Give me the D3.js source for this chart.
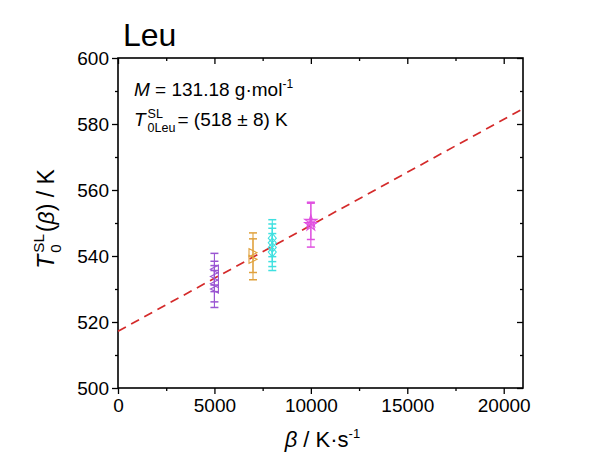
<!DOCTYPE html>
<html>
<head>
    <meta charset="utf-8" />
    <title>Leu</title>
    <style>
        body { margin: 0; background: #fff; }
        text { font-family: Arial, "Liberation Sans", sans-serif; fill: #000; }
    </style>
</head>
<body>
    <script src="https://cdn.jsdelivr.net/npm/d3@7"></script>
    <script>

        // heating rates (K/s)
        let rates = [5000, 7000, 8000, 10000]
        let seriesColors = ['#9a55d2', '#e0a13c', '#3fe0e0', '#e050e0']
        let seriesSymbols = ['left', 'right', 'diamond', 'star']

        // onset temperatures (K) and errors, per rate
        let purpleT = [536, 533.8, 531.6, 530]
        let purpleErr = [4.8, 4.6, 5.5, 5.6]
        let orangeT = [541, 539]
        let orangeErr = [6, 6.2]
        let cyanT = [545.4, 544, 542.6, 541.2]
        let cyanErr = [5.6, 5.7, 5.8, 5.6]
        let magentaT = [549.5, 550.5]
        let magentaErr = [6.8, 5.5]

        // linear fit
        let fitIntercept = 517.2
        let fitSlope = 0.00321

        let xTicks = [0, 5000, 10000, 15000, 20000]
        let yTicks = [500, 520, 540, 560, 580, 600]

        let allT = [purpleT, orangeT, cyanT, magentaT]
        let allErr = [purpleErr, orangeErr, cyanErr, magentaErr]

        let width = 600, height = 452
        let margin = { top: 58, right: 77, bottom: 64, left: 118 }
        let w = width - margin.left - margin.right
        let h = height - margin.top - margin.bottom

        let svg = d3.select('body').append('svg')
            .attr('width', width)
            .attr('height', height)

        svg.append('rect').attr('width', width).attr('height', height).attr('fill', '#fff')

        let g = svg.append('g').attr('transform', `translate(${margin.left}, ${margin.top})`)

        let x = d3.scaleLinear().domain([0, 21000]).range([0, w])
        let y = d3.scaleLinear().domain([500, 600]).range([h, 0])

        // axes
        let minorX = d3.range(0, 21001, 2500).filter(v => v % 5000 !== 0)
        let minorY = d3.range(500, 601, 10).filter(v => v % 20 !== 0)

        function styleAxis(sel) {
            sel.select('.domain').remove()
            sel.selectAll('line').attr('stroke', '#000').attr('stroke-width', 1.3)
            sel.selectAll('text').attr('font-size', 19).attr('fill', '#000')
        }

        g.append('g').attr('transform', `translate(0, ${h})`)
            .call(d3.axisBottom(x).tickValues(xTicks).tickSize(6).tickPadding(5).tickFormat(d3.format('d')))
            .call(styleAxis)
        g.append('g').attr('transform', `translate(0, ${h})`)
            .call(d3.axisBottom(x).tickValues(minorX).tickSize(3).tickFormat(''))
            .call(styleAxis)

        g.append('g')
            .call(d3.axisLeft(y).tickValues(yTicks).tickSize(6).tickPadding(3))
            .call(styleAxis)
        g.append('g')
            .call(d3.axisLeft(y).tickValues(minorY).tickSize(3).tickFormat(''))
            .call(styleAxis)

        // mirrored ticks, inward
        g.append('g')
            .call(d3.axisTop(x).tickValues(xTicks).tickSize(-6).tickFormat(''))
            .call(styleAxis)
        g.append('g')
            .call(d3.axisTop(x).tickValues(minorX).tickSize(-3).tickFormat(''))
            .call(styleAxis)
        g.append('g').attr('transform', `translate(${w}, 0)`)
            .call(d3.axisRight(y).tickValues(yTicks).tickSize(-6).tickFormat(''))
            .call(styleAxis)
        g.append('g').attr('transform', `translate(${w}, 0)`)
            .call(d3.axisRight(y).tickValues(minorY).tickSize(-3).tickFormat(''))
            .call(styleAxis)

        g.append('rect')
            .attr('width', w).attr('height', h)
            .attr('fill', 'none').attr('stroke', '#000').attr('stroke-width', 1.6)

        // fit line
        g.append('line')
            .attr('x1', x(0)).attr('y1', y(fitIntercept))
            .attr('x2', x(21000)).attr('y2', y(fitIntercept + fitSlope * 21000))
            .attr('stroke', '#d42a2a').attr('stroke-width', 1.7)
            .attr('stroke-dasharray', '9,6')

        // symbols
        function symbolPath(type, s) {
            if (type === 'left') return `M${-s},0L${s},${-s}L${s},${s}Z`
            if (type === 'right') return `M${s},0L${-s},${-s}L${-s},${s}Z`
            if (type === 'diamond') return `M0,${-s * 1.2}L${s},0L0,${s * 1.2}L${-s},0Z`
            return d3.symbol(d3.symbolStar, s * s * 3)()
        }

        rates.forEach(function (rate, i) {
            let pts = allT[i].map(function (t, j) { return { t: t, e: allErr[i][j] } })
            let sg = g.append('g').attr('stroke', seriesColors[i]).attr('stroke-width', 1.1)

            pts.forEach(function (p) {
                let cx = x(rate)
                sg.append('line')
                    .attr('x1', cx).attr('x2', cx)
                    .attr('y1', y(p.t + p.e)).attr('y2', y(p.t - p.e))
                ;[p.t + p.e, p.t - p.e].forEach(function (v) {
                    sg.append('line')
                        .attr('x1', cx - 4).attr('x2', cx + 4)
                        .attr('y1', y(v)).attr('y2', y(v))
                        .attr('stroke-width', 1.5)
                })
            })
            pts.forEach(function (p) {
                sg.append('path')
                    .attr('d', symbolPath(seriesSymbols[i], 4))
                    .attr('transform', `translate(${x(rate)}, ${y(p.t)})`)
                    .attr('fill', seriesSymbols[i] === 'star' ? seriesColors[i] : 'none')
                    .attr('fill-opacity', 0.5)
            })
        })

        // title
        svg.append('text')
            .attr('x', 123).attr('y', 46)
            .attr('font-size', 32)
            .text('Leu')

        // annotation 1
        let a1 = svg.append('text').attr('x', 134).attr('y', 96).attr('font-size', 19)
        a1.append('tspan').attr('font-style', 'italic').text('M')
        a1.append('tspan').text(' = 131.18 g·mol')
        a1.append('tspan').attr('font-size', 12).attr('dy', -8).text('-1')

        // stacked sub/superscript label builder
        function stackedLabel(parent, xPos, yPos, size, sup, sub, rest) {
            let t = parent.append('text').attr('x', xPos).attr('y', yPos).attr('font-size', size)
                .attr('font-style', 'italic').text('T')
            let tw = t.node().getComputedTextLength()
            let small = size * 0.66
            let s1 = parent.append('text').attr('x', xPos + tw + 2).attr('y', yPos - size * 0.42)
                .attr('font-size', small).text(sup)
            let s2 = parent.append('text').attr('x', xPos + tw + 2).attr('y', yPos + size * 0.32)
                .attr('font-size', small).text(sub)
            let sw = Math.max(s1.node().getComputedTextLength(), s2.node().getComputedTextLength())
            let r = parent.append('text').attr('x', xPos + tw + sw + 4).attr('y', yPos).attr('font-size', size)
            rest.forEach(function (part) {
                let sp = r.append('tspan').text(part.text)
                if (part.italic) sp.attr('font-style', 'italic')
            })
            return tw + sw + 4 + r.node().getComputedTextLength()
        }

        stackedLabel(svg, 134, 126, 19, 'SL', '0Leu', [{ text: ' = (518 ± 8) K' }])

        // y axis label
        let yl = svg.append('g')
        let yLen = stackedLabel(yl, 0, 0, 23, 'SL', '0', [{ text: '(' }, { text: 'β', italic: true }, { text: ') / K' }])
        yl.attr('transform', `translate(54, ${219 + yLen / 2}) rotate(-90)`)

        // x axis label
        let xl = svg.append('text').attr('y', 447).attr('font-size', 22)
        xl.append('tspan').attr('font-style', 'italic').text('β')
        xl.append('tspan').text(' / K·s')
        xl.append('tspan').attr('font-size', 13).attr('dy', -9).text('-1')
        let xw = xl.node().getComputedTextLength()
        xl.attr('x', margin.left + x(10600) - xw / 2)

    </script>
</body>
</html>
